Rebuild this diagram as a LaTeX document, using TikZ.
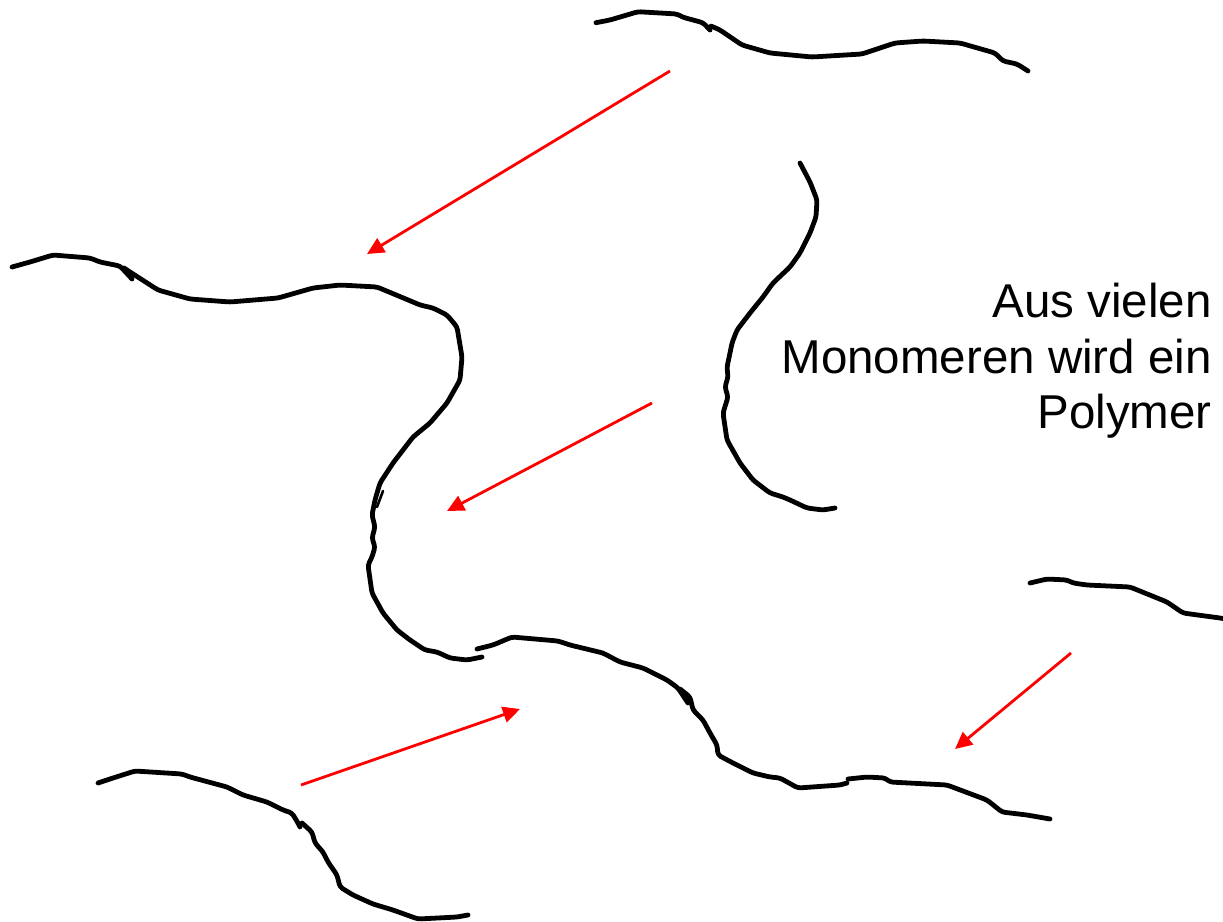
\documentclass[tikz,border=0pt]{standalone}
\usepackage{fontspec}
\setmainfont{Liberation Sans}
\usetikzlibrary{arrows.meta}

\tikzset{
  chain/.style={line width=4.8pt, line join=round, line cap=round, rounded corners=3pt, black},
  push/.style={line width=2.8pt, red, -{Triangle[length=17pt,width=16pt]}},
  caption/.style={font=\fontsize{47.5pt}{55.7pt}\selectfont, align=right, inner sep=0pt, anchor=north east}
}

\begin{document}
\begin{tikzpicture}[x=1pt, y=-1pt]
\useasboundingbox (0,0) rectangle (1223,921);

% polymer chain fragments
\draw[chain] (596,22.7) -- (610,20) -- (638,11.7) -- (677,14) -- (683,17.3) -- (703,22.7) -- (710,30);
\draw[chain] (711,26) -- (720,30) -- (742,45) -- (770,53) -- (812,57) -- (862,54) -- (895,43) -- (923,41) -- (960,43) -- (995,53) -- (1003,61) -- (1017,64) -- (1028,71);

\draw[chain] (12,267) -- (30,262) -- (53,255) -- (90,258) -- (100,262) -- (120,266) -- (132,279);
\draw[chain] (124,268) -- (130,272) -- (158,290) -- (190,299) -- (230,302) -- (278,298) -- (313,288) -- (340,285) -- (377,287) -- (413,302) -- (420,305) -- (433,308) -- (447,315) -- (457,327) -- (462,357) -- (460,380) -- (447,403) -- (430,423) -- (413,437) -- (393,463) -- (380,483) -- (375,500) -- (372,515) -- (375,527) -- (372,538) -- (375,547) -- (372,557) -- (368,565) -- (372,593) -- (383,613) -- (397,630) -- (410,640) -- (425,650) -- (437,652) -- (450,658) -- (467,660) -- (482,657);
\draw[chain, line width=2.6pt] (383,491) -- (377,507);

\draw[chain] (477,649) -- (493,645) -- (512,637) -- (558,641) -- (570,645) -- (603,653) -- (620,662) -- (643,668) -- (667,680) -- (678,688) -- (688,703);
\draw[chain] (680,689) -- (690,697) -- (693,710) -- (703,720) -- (710,733) -- (717,745) -- (718,755) -- (733,763) -- (753,773) -- (770,777) -- (780,778) -- (798,788) -- (840,785) -- (847,783);
\draw[chain] (848,779) -- (867,777) -- (885,778) -- (890,782) -- (947,785) -- (987,800) -- (1002,812) -- (1027,815) -- (1050,819);

\draw[chain] (800,163) -- (810,182) -- (817,200) -- (816,217) -- (810,233) -- (800,253) -- (790,267) -- (773,283) -- (763,297) -- (750,313) -- (737,330) -- (732,343) -- (730,353) -- (727,367) -- (728,377) -- (725,387) -- (728,397) -- (723,413) -- (727,440) -- (740,463) -- (753,480) -- (770,493) -- (783,497) -- (790,500) -- (807,508) -- (823,510) -- (835,508);

\draw[chain] (98,783) -- (113,778) -- (135,771) -- (182,774) -- (190,777) -- (227,787) -- (243,795) -- (267,802) -- (283,810) -- (292,813) -- (298,823) -- (300,827);
\draw[chain] (302,823) -- (312,832) -- (315,843) -- (323,852) -- (328,862) -- (337,875) -- (340,887) -- (353,895) -- (373,904) -- (393,910) -- (418,919) -- (457,917) -- (468,915);

\draw[chain] (1030,583) -- (1047,579) -- (1067,580) -- (1073,583) -- (1087,585) -- (1130,587) -- (1167,602) -- (1183,613) -- (1220,618) -- (1226,619);

% reaction arrows
\coordinate (a1s) at (670,71);   \coordinate (a1e) at (367,254);
\coordinate (a2s) at (652,403);  \coordinate (a2e) at (447,511);
\coordinate (a3s) at (301,785);  \coordinate (a3e) at (520,709);
\coordinate (a4s) at (1071,653); \coordinate (a4e) at (955,749);
\draw[push] (a1s) -- (a1e);
\draw[push] (a2s) -- (a2e);
\draw[push] (a3s) -- (a3e);
\draw[push] (a4s) -- (a4e);

\node[caption] (label) at (1212,282.7) {Aus vielen\\Monomeren wird ein\\Polymer};
\end{tikzpicture}
\end{document}
